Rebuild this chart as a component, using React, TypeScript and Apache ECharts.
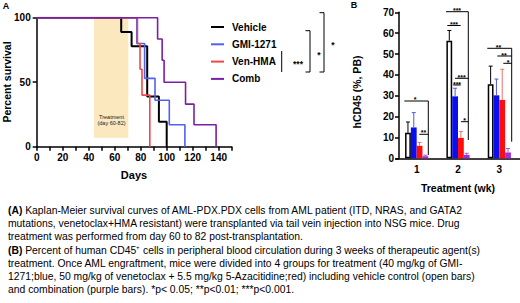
import React, { useEffect, useRef } from 'react';
import * as echarts from 'echarts';

// ---------- Panel A : Kaplan-Meier ----------
const kmNames = ['Vehicle', 'GMI-1271', 'Ven-HMA', 'Comb'];
const kmColors = ['#000000', '#5061f0', '#f04646', '#7a1fa6'];
const kmVehicle = [[0, 100], [65, 88.9], [73, 77.8], [85, 38.9], [94, 19.4], [100, 0]];
const kmGMI = [[0, 100], [77, 80], [83, 53], [91, 36], [102, 17], [114, 0]];
const kmVenHMA = [[0, 100], [77.5, 80], [79.5, 60], [81, 40], [87, 0]];
const kmComb = [[0, 100], [93, 83.5], [96.5, 67], [98, 50], [114.5, 33], [121, 17], [138, 0]];
const treatmentWindow = [44, 70.5];

// ---------- Panel B : hCD45 bars ----------
const weeks = ['1', '2', '3'];
const barVehicle = [12.2, 56.4, 35.5];
const barGMI = [14.8, 29.7, 30.2];
const barVenHMA = [6.0, 9.8, 28.0];
const barComb = [1.0, 1.6, 2.8];
const errVehicle = [17.4, 61.3, 44.2];
const errGMI = [21.9, 33.6, 38.0];
const errVenHMA = [7.6, 12.8, 42.7];
const errComb = [1.5, 2.4, 4.7];
const barFill = ['#ffffff', '#0a0ff0', '#ff0d0d', '#a02ee0'];
const errColor = ['#000000', '#5558d8', '#f07070', '#b050e0'];

const captionLines = [
  ['(A)', ' Kaplan-Meier survival curves of AML-PDX.PDX cells from AML patient (ITD, NRAS, and GATA2'],
  ['', 'mutations, venetoclax+HMA resistant) were transplanted via tail vein injection into NSG mice. Drug'],
  ['', 'treatment was performed from day 60 to 82 post-transplantation.'],
  ['(B)', ' Percent of human CD45\u207A cells in peripheral blood circulation during 3 weeks of therapeutic agent(s)'],
  ['', 'treatment. Once AML engraftment, mice were divided into 4 groups for treatment (40 mg/kg of GMI-'],
  ['', '1271;blue, 50 mg/kg of venetoclax + 5.5 mg/kg 5-Azacitidine;red) including vehicle control (open bars)'],
  ['', 'and combination (purple bars). *p< 0.05; **p<0.01; ***p<0.001.'],
];

const FONT = '"Liberation Sans", Arial, sans-serif';

export default function App() {
  const ref = useRef<HTMLDivElement>(null);
  useEffect(() => {
    if (!ref.current) return;
    const chart = echarts.init(ref.current, null, { renderer: 'svg' });
    const kmData = [kmVehicle, kmGMI, kmVenHMA, kmComb];
    const bars = [barVehicle, barGMI, barVenHMA, barComb];
    const errs = [errVehicle, errGMI, errVenHMA, errComb];
    const BW = 5.8;

    const errData: number[][] = [];
    errs.forEach((arr, s) => arr.forEach((e, c) => errData.push([c, bars[s][c], e, s])));

    const ln = (x1: number, y1: number, x2: number, y2: number, w = 1) => ({
      type: 'line', silent: true, z: 20,
      shape: { x1, y1, x2, y2 },
      style: { stroke: '#000', lineWidth: w },
    });
    const star = (x: number, y: number, t: string, size = 8) => ({
      type: 'text', silent: true, x, y, z: 20,
      style: { text: t, fontSize: size, fontWeight: 'bold', fill: '#000', align: 'center', verticalAlign: 'middle', fontFamily: FONT },
    });
    const txt = (x: number, y: number, t: string, size: number, extra: any = {}) => ({
      type: 'text', silent: true, x, y, z: 20, ...extra,
      style: { text: t, fontSize: size, fontWeight: 'bold', fill: '#000', align: 'center', verticalAlign: 'middle', fontFamily: FONT },
    });

    const graphic: any[] = [
      txt(6, 6, 'A', 9),
      txt(354, 5, 'B', 9),
      txt(7, 82, 'Percent survival', 10.5, { rotation: Math.PI / 2 }),
      txt(134, 175, 'Days', 11),
      txt(357, 92, 'hCD45 (%, PB)', 10.5, { rotation: Math.PI / 2 }),
      txt(458, 188, 'Treatment (wk)', 10.5),
      // treatment text
      { type: 'text', silent: true, z: 20, x: 111.5, y: 117, style: { text: 'Treatment', fontSize: 5.5, fill: '#222', align: 'center', verticalAlign: 'middle', fontFamily: FONT } },
      { type: 'text', silent: true, z: 20, x: 111.5, y: 123, style: { text: '(day 60-82)', fontSize: 5.5, fill: '#222', align: 'center', verticalAlign: 'middle', fontFamily: FONT } },
      // Panel A significance brackets
      ln(281.7, 51, 281.7, 72), star(298, 64, '***', 8.5),
      ln(305.5, 30.7, 310, 30.7), ln(310, 30.7, 310, 72), ln(305.5, 72, 310, 72), star(319, 55, '*', 8.5),
      ln(319.5, 12.7, 324, 12.7), ln(324, 12.7, 324, 72), ln(319.5, 72, 324, 72), star(333, 45, '*', 8.5),
      // Panel B week 1
      ln(404.3, 101, 428.3, 101), ln(428.3, 101, 428.3, 155), star(415, 99, '*', 7),
      ln(419.3, 134.3, 428.3, 134.3), star(423.5, 132.5, '**', 7),
      // week 2
      ln(446, 11.7, 468.3, 11.7), ln(468.3, 11.7, 468.3, 140), star(457, 10, '***', 7),
      ln(447.3, 25.5, 460.7, 25.5), star(454, 24, '***', 7),
      ln(455, 78.3, 468.3, 78.3), star(461.7, 77, '***', 7),
      ln(453.3, 85, 460.7, 85), star(457, 84, '***', 7),
      ln(461, 121.7, 468.3, 121.7), star(464.7, 120, '*', 7),
      // week 3
      ln(487.3, 48.3, 511.7, 48.3), ln(511.7, 48.3, 511.7, 141.7), star(498.5, 47, '**', 7),
      ln(497.3, 56, 511.7, 56), star(504, 55, '**', 7),
      ln(503.3, 63.3, 511.7, 63.3), star(508, 62.5, '*', 7),
    ];
    captionLines.forEach(([b, rest], i) => {
      graphic.push({
        type: 'text', silent: true, z: 20, x: 8, y: 210.5 + i * 13.2,
        style: {
          text: b ? `{b|${b}}{r|${rest}}` : `{r|${rest}}`,
          verticalAlign: 'middle', align: 'left',
          rich: {
            b: { fontSize: 10.35, fontWeight: 'bold', fontFamily: FONT, fill: '#000' },
            r: { fontSize: 10.35, fontFamily: FONT, fill: '#000' },
          },
        },
      });
    });

    const axisBlack = { lineStyle: { color: '#000', width: 1.5 } };
    const labelStyle = { color: '#000', fontWeight: 'bold' as const, fontSize: 10, fontFamily: FONT };

    const option: any = {
      animation: false,
      textStyle: { fontFamily: FONT },
      grid: [
        { left: 36.7, top: 17.7, width: 195, height: 129 },
        { left: 396, top: 12.3, width: 124, height: 146 },
      ],
      legend: {
        data: kmNames,
        orient: 'vertical',
        left: 206,
        top: 15,
        icon: 'rect',
        itemWidth: 13,
        itemHeight: 2,
        itemGap: 3.3,
        selectedMode: false,
        textStyle: { fontSize: 10, fontWeight: 'bold', color: '#000', lineHeight: 14, padding: [0, 0, 0, 3], fontFamily: FONT },
      },
      xAxis: [
        {
          gridIndex: 0, type: 'value', min: 0, max: 150, interval: 10,
          axisLine: axisBlack, axisTick: { length: 4, ...axisBlack },
          axisLabel: { ...labelStyle, margin: 6, formatter: (v: number) => (v % 20 === 0 && v < 150 ? String(v) : '') },
          splitLine: { show: false },
        },
        {
          gridIndex: 1, type: 'category', data: weeks,
          axisLine: axisBlack, axisTick: { length: 4, alignWithLabel: true, ...axisBlack },
          axisLabel: { ...labelStyle, margin: 6 },
        },
      ],
      yAxis: [
        {
          gridIndex: 0, type: 'value', min: 0, max: 100, interval: 50,
          axisLine: { show: true, ...axisBlack }, axisTick: { show: true, length: 4, ...axisBlack },
          axisLabel: { ...labelStyle, margin: 6 },
          splitLine: { show: false },
        },
        {
          gridIndex: 1, type: 'value', min: 0, max: 70, interval: 10, offset: -3,
          axisLine: { show: true, ...axisBlack }, axisTick: { show: true, length: 4, ...axisBlack },
          axisLabel: { ...labelStyle, margin: 5 },
          splitLine: { show: false },
        },
      ],
      series: [
        ...kmData.map((d, i) => ({
          name: kmNames[i], type: 'line', step: 'end', data: d, symbol: 'none',
          xAxisIndex: 0, yAxisIndex: 0, color: kmColors[i],
          lineStyle: { color: kmColors[i], width: i === 0 ? 2 : 1.6 },
          z: 3,
          markArea: i === 0 ? {
            silent: true,
            itemStyle: { color: '#fbe8bf' },
            data: [[{ xAxis: treatmentWindow[0], yAxis: 7 }, { xAxis: treatmentWindow[1], yAxis: 100.5 }]],
          } : undefined,
        })),
        ...bars.map((d, i) => ({
          name: kmNames[i], type: 'bar', data: d, xAxisIndex: 1, yAxisIndex: 1,
          barWidth: BW, barGap: '0%',
          itemStyle: i === 0
            ? { color: '#ffffff', borderColor: '#000', borderWidth: 1.5 }
            : { color: barFill[i] },
          z: 2,
        })),
        {
          name: 'error', type: 'custom', xAxisIndex: 1, yAxisIndex: 1, data: errData, z: 3,
          renderItem: (_p: any, api: any) => {
            const c = api.value(0), v = api.value(1), e = api.value(2), s = api.value(3);
            const b = api.coord([c, v]);
            const t = api.coord([c, e]);
            const x = b[0] + (s - 1.5) * BW;
            const st = { stroke: errColor[s], lineWidth: 1 };
            return {
              type: 'group',
              children: [
                { type: 'line', shape: { x1: x, y1: b[1], x2: x, y2: t[1] }, style: st },
                { type: 'line', shape: { x1: x - 2, y1: t[1], x2: x + 2, y2: t[1] }, style: st },
              ],
            };
          },
        },
      ],
      graphic,
    };
    chart.setOption(option);
    return () => chart.dispose();
  }, []);
  return <div ref={ref} style={{ position: 'fixed', left: 0, top: 0, width: 520, height: 303, background: '#fff' }} />;
}
